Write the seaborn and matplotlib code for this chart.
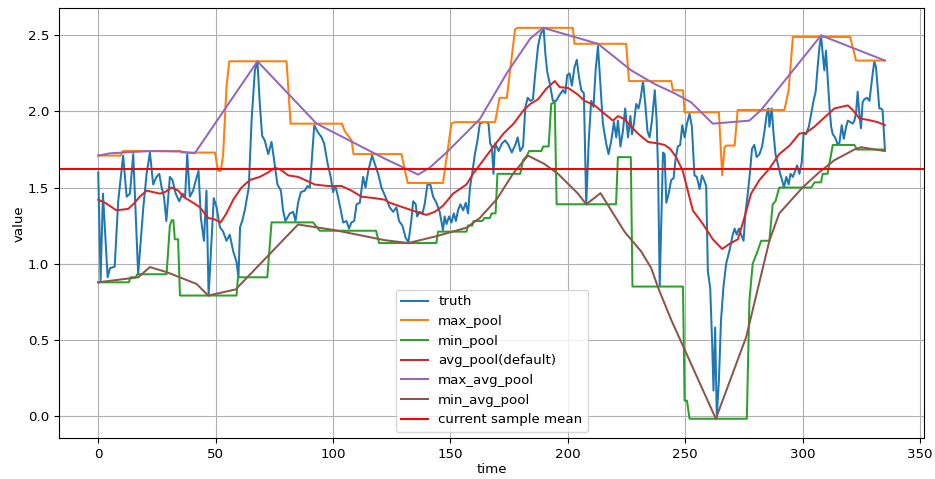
import numpy as np
import matplotlib
matplotlib.use("Agg")
import matplotlib.pyplot as plt
import seaborn as sns

# ---- observed signal -------------------------------------------------------
truth_time = [
    0, 1, 2, 4, 5, 7, 8.5, 10.6, 12.1, 13.5, 14.9, 17, 19.2, 20.6, 22, 23.4,
    24.8, 26, 27, 28, 29, 30.5, 31.6, 33, 34.5, 35.9, 37, 37.9, 39, 40.4, 41.6,
    42.7, 43.7, 45, 46.1, 47, 49.2, 50.4, 51.8, 53.2, 54.6, 56, 57.5, 58.9,
    59.7, 60.4, 61.3, 62.4, 64.1, 65.3, 66.7, 67.8, 68.8, 69.8, 70.9, 72.4,
    73.8, 74.9, 76.3, 77.8, 78.7, 79.7, 81.6, 83, 84, 85.1, 86.3, 88, 89.1,
    90.1, 91.1, 92, 93.3, 95.1, 96.2, 97.7, 99, 100, 101, 102.1, 103.3, 104.3,
    105.7, 106.8, 107.8, 109, 110, 111.4, 112.8, 113.8, 115, 116.6, 117.8,
    119.2, 120.6, 122, 124.1, 125.6, 127, 128.1, 129.5, 130.9, 132.1, 133.3,
    134.1, 135.2, 135.8, 136.9, 138.1, 139, 140.2, 141.4, 142.6, 144, 145.4,
    146.8, 147.5, 148.3, 149.4, 150.4, 151.4, 152.3, 153.2, 154.2, 155.4,
    156.5, 157.5, 158.3, 159.4, 160.4, 161.5, 162.5, 164, 165.4, 166.2, 166.9,
    167.6, 168.3, 169, 170.5, 171.9, 173.3, 174.7, 176.1, 177.6, 178.6, 179.7,
    180.9, 181.9, 182.9, 184, 185.1, 186.1, 187.3, 188.4, 189.7, 190.4, 191.2,
    192.2, 193.6, 195, 196.5, 197.9, 198.9, 199.7, 200.7, 201.7, 202.8, 203.8,
    204.7, 205.7, 206.8, 207.8, 208.9, 209.9, 210.9, 211.8, 212.8, 213.9,
    214.9, 216.3, 217.3, 218.5, 219.6, 220.6, 221.3, 222.4, 223.4, 224.4,
    225.6, 226.6, 227.3, 228.1, 229.1, 230.1, 231, 232, 233, 233.9, 234.8,
    235.8, 237, 237.8, 238.4, 239.1, 239.8, 240.5, 241.2, 241.9, 242.9, 244,
    245, 245.8, 246.8, 247.8, 248.7, 249.7, 250.7, 251.8, 252.8, 253.9, 254.9,
    256.1, 257.1, 258.2, 258.9, 259.6, 260.6, 261.4, 262, 262.7, 263.4, 264.3,
    265.2, 266.2, 267.4, 268.8, 270.2, 271, 271.9, 272.8, 273.8, 274.8, 275.6,
    276.6, 277.6, 278.4, 279.4, 280.4, 281.6, 282.7, 283.7, 284.7, 285.4,
    285.8, 286.8, 287.5, 288.4, 289.4, 290.4, 291.2, 292, 293, 294, 294.8,
    295.8, 296.8, 297.6, 298.6, 299.6, 300.4, 301.4, 302.6, 303.6, 304.6,
    305.5, 306.3, 307.1, 307.8, 308.5, 309.2, 309.9, 310.6, 311.4, 312.1,
    312.8, 313.8, 314.7, 315.6, 316.6, 317.5, 318.5, 319.2, 320.3, 321.3, 322,
    322.7, 323.4, 324.1, 324.8, 325.5, 326.2, 327.4, 328.4, 329.1, 329.8,
    330.5, 331.2, 331.9, 332.6, 333.3, 334, 335,
]
truth_value = [
    1.60, 0.89, 1.46, 0.91, 0.97, 0.98, 1.41, 1.71, 1.44, 1.46, 1.72, 0.93,
    1.37, 1.59, 1.73, 1.52, 1.57, 1.59, 1.50, 1.44, 1.28, 1.57, 1.55, 1.46,
    1.41, 1.46, 1.44, 1.72, 1.44, 1.48, 1.55, 1.61, 1.30, 1.15, 1.48, 0.79,
    1.43, 1.37, 1.24, 1.21, 1.15, 1.19, 1.08, 1.01,
    0.91, 1.24, 1.28, 1.35, 1.50, 1.94, 2.27, 2.33, 2.05, 1.84, 1.81, 1.72,
    1.80, 1.68, 1.52, 1.48, 1.35, 1.28, 1.33, 1.34, 1.28, 1.40, 1.47, 1.48,
    1.51, 1.50, 1.72, 1.91, 1.87, 1.83, 1.79, 1.655, 1.57, 1.47, 1.51, 1.44,
    1.35, 1.27, 1.28, 1.23, 1.27, 1.28, 1.39, 1.40, 1.57, 1.50, 1.61, 1.71,
    1.655, 1.59, 1.50, 1.45, 1.37, 1.34, 1.37, 1.28, 1.25, 1.17, 1.14, 1.28,
    1.41, 1.39, 1.31, 1.34, 1.33, 1.39, 1.52, 1.52, 1.44, 1.40, 1.34, 1.22,
    1.31, 1.26, 1.31, 1.27, 1.33, 1.28, 1.35, 1.39, 1.35, 1.40, 1.33, 1.50,
    1.61, 1.72, 1.81, 1.92, 1.93, 1.93, 1.92, 1.79, 1.77, 1.59, 1.79, 1.74,
    1.79, 1.81, 1.78, 1.73, 1.78, 1.83, 1.74, 1.77, 2.03, 2.09, 2.07, 2.08,
    2.25, 2.43, 2.51, 2.54, 2.38, 2.26, 2.19, 2.07, 2.07, 2.11, 2.14, 2.12,
    2.24, 2.25, 2.17, 2.29, 2.34, 2.23, 2.14, 2.12, 1.39, 1.81, 2.07, 2.03,
    2.27, 2.43, 2.16, 1.92, 1.79, 1.72, 1.81, 1.93, 1.83, 1.94, 1.77, 1.87,
    2.02, 1.83, 1.97, 1.85, 1.92, 2.05, 2.02, 2.09, 2.20, 2.04, 1.87, 1.83,
    1.94, 2.14, 1.94, 1.61, 0.855, 1.28, 1.73, 1.72, 1.40, 1.46, 1.55, 1.56,
    1.68, 1.77, 1.78, 1.91, 1.83, 1.92, 1.985, 1.90, 1.58, 1.57, 1.49, 1.58,
    1.54, 1.51, 0.95, 0.84, 0.49, 0.165, 0.58, -0.01, 0.23, 0.625, 0.84, 1.0,
    1.085, 1.19, 1.23, 1.19, 1.23, 1.19, 1.15, 1.33, 1.46, 1.61, 1.755, 1.78,
    1.70, 1.72, 1.77, 1.87, 1.985, 2.02, 1.90, 2.02, 1.87, 1.72, 1.655, 1.59,
    1.55, 1.50, 1.57, 1.52, 1.59, 1.57, 1.61, 1.645, 1.59, 1.667, 1.86, 1.85,
    1.90, 1.985, 2.07, 2.13, 2.28, 2.42, 2.50, 2.38, 2.27, 2.40, 2.23, 2.03,
    1.90, 1.85, 1.83, 1.79, 1.79, 1.91, 1.82, 1.90, 1.94, 1.93, 1.92, 1.94,
    1.99, 2.13, 1.985, 1.89, 2.06, 2.08, 2.09, 2.07, 2.16, 2.25, 2.33, 2.29,
    2.16, 2.02, 2.02, 2.01, 1.75,
]

# ---- pooled reconstructions ------------------------------------------------
max_pool_time = [
    0, 9.5, 10.5, 34.8, 35.5, 49.7, 51, 52.2, 53.2, 54.6, 55.8, 80.2, 81.9,
    103.8, 105, 107.9, 108.7, 129.1, 131.8, 146.8, 150.4, 152, 169, 170.9,
    174, 177.5, 178.5, 202.1, 202.8, 224.8, 226, 244, 244.7, 249, 249.7,
    264.3, 265.7, 266.7, 267.5, 271, 272.3, 292.2, 294, 295.8, 320.2, 322.7,
    335,
]
max_pool_value = [
    1.71, 1.71, 1.74, 1.74, 1.73, 1.73, 1.61, 1.61, 1.72, 2.16, 2.33, 2.33,
    1.92, 1.92, 1.87, 1.81, 1.72, 1.72, 1.53, 1.53, 1.92, 1.93, 1.93, 2.09,
    2.09, 2.54, 2.55, 2.55, 2.445, 2.445, 2.20, 2.20, 2.14, 2.14, 1.995,
    1.995, 1.58, 1.765, 1.776, 1.776, 2.01, 2.01, 2.14, 2.49, 2.49, 2.335,
    2.335,
]

min_pool_time = [
    0, 13, 13.8, 16, 16.6, 29.1, 30.5, 31.3, 32, 32.6, 34, 34.8, 58.9, 59.5,
    72, 73.8, 91.5, 94.3, 118.3, 119.6, 144, 144.7, 156.8, 157.5, 159.3,
    159.8, 163.5, 164.5, 166.8, 167.5, 169.2, 170, 179.7, 180.9, 182.5,
    183.5, 188.7, 189.5, 191.8, 192.9, 194.4, 195.2, 220.5, 221.3, 226.8,
    227.5, 249, 249.7, 250.7, 251.8, 276.2, 277.3, 278.7, 280.4, 282.3,
    285.8, 287.2, 288.4, 290, 303.6, 305, 307.8, 308.5, 310.6, 312.8, 322,
    323.1, 335,
]
min_pool_value = [
    0.877, 0.877, 0.91, 0.91, 0.93, 0.93, 1.25, 1.285, 1.285, 1.16, 1.16,
    0.79, 0.79, 0.91, 0.91, 1.271, 1.271, 1.216, 1.216, 1.135, 1.135, 1.21,
    1.21, 1.25, 1.25, 1.28, 1.28, 1.30, 1.30, 1.33, 1.33, 1.59, 1.59, 1.68,
    1.71, 1.74, 1.74, 1.77, 1.77, 2.05, 2.06, 1.39, 1.39, 1.70, 1.70, 0.849,
    0.849, 0.099, 0.099, -0.02, -0.02, 0.757, 1.0, 1.066, 1.15, 1.15, 1.39,
    1.41, 1.50, 1.50, 1.534, 1.534, 1.59, 1.59, 1.78, 1.78, 1.75, 1.75,
]

avg_pool_time = [
    0, 2.9, 7.8, 12.8, 14.9, 17.7, 20.6, 23.4, 26.3, 28.4, 31.2, 34.1, 36.2,
    40.4, 43.3, 46.8, 49.7, 52.1, 54.6, 57.5, 61, 64.6, 68.8, 72.4, 75.2,
    77.4, 80.9, 85.1, 88, 92.2, 97.9, 103.6, 107.8, 112.1, 117.8, 122, 124.1,
    129.8, 135.5, 139.7, 143.3, 146.8, 151.1, 156.8, 159.6, 164, 168.3,
    172.6, 176.9, 181.2, 184, 187.3, 190.8, 194.4, 196.5, 200.1, 204.3,
    207.1, 211.4, 215.6, 219.2, 221.3, 224.1, 227, 229.8, 234.1, 238.4,
    241.2, 243.5, 246.1, 248.9, 253.2, 257.5, 261.7, 265.7, 268.8, 272.4,
    275.2, 278, 281.6, 285.8, 290, 294.4, 298.6, 301.4, 305, 309.2, 313.5,
    319.2, 321.3, 324.1, 327.7, 331.9, 335,
]
avg_pool_value = [
    1.42, 1.40, 1.35, 1.36, 1.39, 1.44, 1.48, 1.47, 1.46, 1.47, 1.50, 1.48,
    1.44, 1.40, 1.37, 1.30, 1.29, 1.27, 1.33, 1.42, 1.50, 1.55, 1.57, 1.60,
    1.63, 1.62, 1.58, 1.57, 1.55, 1.52, 1.51, 1.51, 1.48, 1.44, 1.43, 1.42,
    1.40, 1.37, 1.34, 1.32, 1.34, 1.38, 1.46, 1.52, 1.59, 1.68, 1.77, 1.855,
    1.92, 2.01, 2.05, 2.08, 2.15, 2.20, 2.16, 2.155, 2.11, 2.07, 2.04, 1.985,
    1.94, 1.97, 1.95, 1.90, 1.855, 1.80, 1.79, 1.78, 1.755, 1.70, 1.61, 1.35,
    1.26, 1.16, 1.096, 1.13, 1.16, 1.304, 1.46, 1.55, 1.624, 1.72, 1.776,
    1.855, 1.86, 1.90, 1.96, 2.02, 2.04, 2.01, 1.955, 1.945, 1.93, 1.91,
]

max_avg_pool_time = [
    0, 5, 22, 34.8, 41.1, 67.8, 93, 122, 136.2, 141.1, 148.3, 162.5, 173.9,
    184, 189.5, 212.8, 227, 237, 245.4, 252.5, 261.7, 277.3, 282.3, 307.8,
    335,
]
max_avg_pool_value = [
    1.71, 1.725, 1.74, 1.737, 1.725, 2.33, 1.92, 1.69, 1.585, 1.63, 1.73,
    1.95, 2.25, 2.48, 2.55, 2.445, 2.27, 2.18, 2.12, 2.06, 1.92, 1.94, 2.01,
    2.50, 2.335,
]

min_avg_pool_time = [
    0, 17, 22, 29.1, 41.9, 46.8, 58.5, 85.1, 100.7, 122, 132, 144, 156.8,
    162.5, 169.8, 176.6, 183, 190, 195.8, 204.3, 207.8, 213.9, 224.1, 231.2,
    235.5, 238.4, 244, 263, 275.9, 285.8, 290, 299.9, 307, 313.5, 322, 324.8,
    335,
]
min_avg_pool_value = [
    0.877, 0.91, 0.977, 0.944, 0.866, 0.79, 0.83, 1.257, 1.22, 1.154, 1.135,
    1.18, 1.236, 1.30, 1.425, 1.59, 1.71, 1.655, 1.59, 1.46, 1.39, 1.463,
    1.21, 1.08, 0.97, 0.842, 0.63, -0.02, 0.516, 1.15, 1.33, 1.50, 1.60,
    1.68, 1.75, 1.765, 1.74,
]

sample_mean = 1.625

# ---- figure ----------------------------------------------------------------
plt.rcParams["font.size"] = 9.6

fig, ax = plt.subplots(figsize=(9.35, 4.79), dpi=100)
fig.subplots_adjust(left=0.063, right=0.9885, bottom=0.085, top=0.9827)

series = [
    ("truth", truth_time, truth_value, "C0"),
    ("max_pool", max_pool_time, max_pool_value, "C1"),
    ("min_pool", min_pool_time, min_pool_value, "C2"),
    ("avg_pool(default)", avg_pool_time, avg_pool_value, "C3"),
    ("max_avg_pool", max_avg_pool_time, max_avg_pool_value, "C4"),
    ("min_avg_pool", min_avg_pool_time, min_avg_pool_value, "C5"),
]
for name, t, v, color in series:
    sns.lineplot(x=np.asarray(t, dtype=float), y=np.asarray(v, dtype=float),
                 ax=ax, label=name, color=color, estimator=None, sort=False,
                 linewidth=1.45)

ax.axhline(sample_mean, color="red", linewidth=1.45, label="current sample mean")

ax.set_xlabel("time", labelpad=1.5)
ax.set_ylabel("value", labelpad=1.8)
ax.grid(True)
ax.legend(loc="lower center")

fig.savefig("out.png", dpi=100)
